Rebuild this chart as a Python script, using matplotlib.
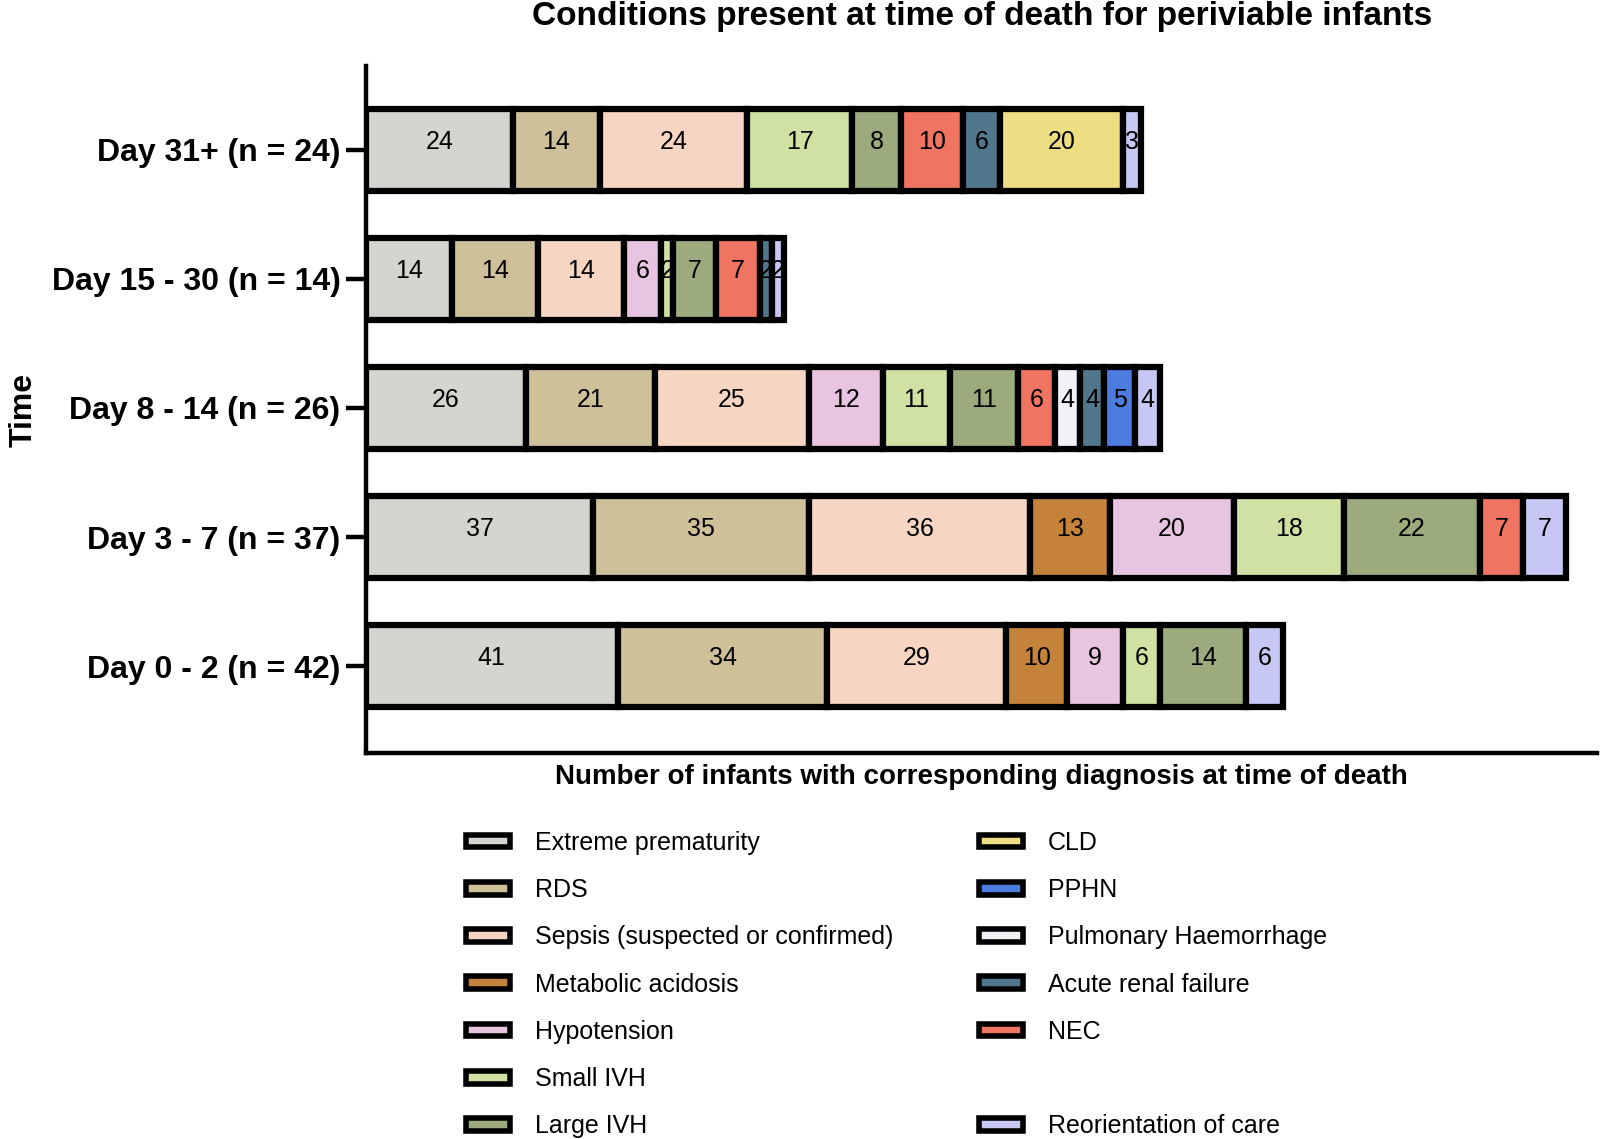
import matplotlib
matplotlib.use("Agg")
import matplotlib.pyplot as plt
from matplotlib.patches import Rectangle
import numpy as np

plt.rcParams['font.family'] = ['Liberation Sans', 'DejaVu Sans']

# rows, bottom to top
periods = ["Day 0 - 2 (n = 42)", "Day 3 - 7 (n = 37)", "Day 8 - 14 (n = 26)",
           "Day 15 - 30 (n = 14)", "Day 31+ (n = 24)"]

conditions = ["Extreme prematurity", "RDS", "Sepsis (suspected or confirmed)",
              "Metabolic acidosis", "Hypotension", "Small IVH", "Large IVH",
              "NEC", "Pulmonary Haemorrhage", "Acute renal failure", "PPHN",
              "CLD", "Reorientation of care"]

colors = ["#D4D5CF", "#CEC19A", "#F6D6C3", "#C4823A", "#E7C5E1", "#D0E2A3",
          "#9BAB7E", "#EF7461", "#F3F1F8", "#51778D", "#4C7CE0", "#EEDE83",
          "#C6C7F2"]

# counts per condition, one value per period (same order as periods)
extreme = [41, 37, 26, 14, 24]
rds = [34, 35, 21, 14, 14]
sepsis = [29, 36, 25, 14, 24]
metabolic = [10, 13, 0, 0, 0]
hypotension = [9, 20, 12, 6, 0]
small_ivh = [6, 18, 11, 2, 17]
large_ivh = [14, 22, 11, 7, 8]
nec = [0, 7, 6, 7, 10]
pulm_haem = [0, 0, 4, 0, 0]
renal = [0, 0, 4, 2, 6]
pphn = [0, 0, 5, 0, 0]
cld = [0, 0, 0, 0, 20]
reorientation = [6, 7, 4, 2, 3]

series = [extreme, rds, sepsis, metabolic, hypotension, small_ivh, large_ivh,
          nec, pulm_haem, renal, pphn, cld, reorientation]

# legend layout (GraphPad style, with one empty slot on the right)
legend_left = [0, 1, 2, 3, 4, 5, 6]
legend_right = [11, 10, 8, 9, 7, None, 12]

fig = plt.figure(figsize=(16, 11.39), dpi=100)
ax = fig.add_axes([0.2285, 0.3389, 0.7695, 0.6032])

y = np.arange(len(periods))
left = np.zeros(len(periods))
for name, vals, col in zip(conditions, series, colors):
    vals = np.array(vals, dtype=float)
    mask = vals > 0
    ax.barh(y[mask], vals[mask], left=left[mask], height=0.63,
            color=col, edgecolor='black', linewidth=4.5, zorder=2)
    for yi, l, v in zip(y[mask], left[mask], vals[mask]):
        ax.text(l + v / 2, yi + 0.06, f"{int(v)}", ha='center', va='center',
                fontsize=18, color='black', zorder=3)
    left += vals

ax.set_xlim(0, 200)
ax.set_ylim(-0.674, 4.651)
ax.set_yticks(y)
ax.set_yticklabels(periods, fontsize=23, fontweight='bold')
ax.set_xticks([])
ax.tick_params(axis='y', length=14.4, width=3.2, pad=3.6)

for s in ['top', 'right']:
    ax.spines[s].set_visible(False)
for s in ['left', 'bottom']:
    ax.spines[s].set_linewidth(3.2)

ax.set_xlabel("Number of infants with corresponding diagnosis at time of death",
              fontsize=20, fontweight='bold', labelpad=8)
ax.set_ylabel("Time", fontsize=23, fontweight='bold')
ax.yaxis.set_label_coords(-0.278, 0.5)
ax.yaxis.label.set_verticalalignment('center')

fig.text(0.614, 1 - 16 / 1139, "Conditions present at time of death for periviable infants",
         ha='center', va='center', fontsize=24.1, fontweight='bold')

handles, labels = [], []
for idx in legend_left + legend_right:
    if idx is None:
        handles.append(Rectangle((0, 0), 1, 1, visible=False))
        labels.append(" ")
    else:
        handles.append(Rectangle((0, 0), 1, 1, facecolor=colors[idx],
                                 edgecolor='black', linewidth=4))
        labels.append(conditions[idx])

fig.legend(handles, labels, loc='upper left', bbox_to_anchor=(0.291, 0.2705),
           ncol=2, frameon=False, fontsize=18, handlelength=1.76,
           handleheight=0.42, handletextpad=1.0, labelspacing=0.93,
           columnspacing=3.44, borderpad=0, borderaxespad=0)

fig.savefig("out.png", dpi=100)
